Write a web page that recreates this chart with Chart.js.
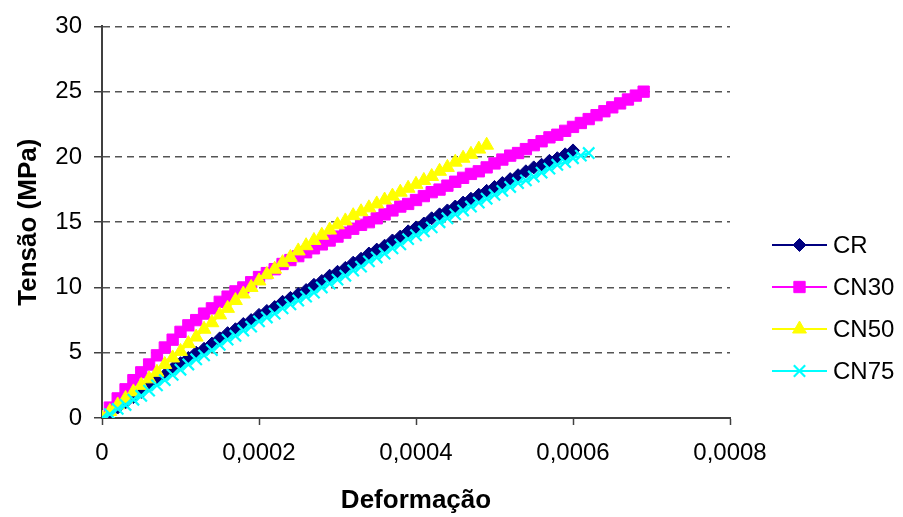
<!DOCTYPE html>
<html lang="pt">
<head>
    <meta charset="UTF-8">
    <title>Tensão x Deformação</title>
    <script src="https://cdn.jsdelivr.net/npm/chart.js"></script>
    <style>
        body {
            background-color: white;
            margin: 0;
            font-family: "Liberation Sans", Arial, sans-serif;
        }
    </style>
</head>
<body>
    <canvas id="grafico" width="903" height="517"></canvas>

    <script>
        // deformação (strain) em passos de 0,00001
        const deformacao = [];
        for (let i = 0; i <= 70; i++) deformacao.push(i / 100000);

        // tensão (MPa), um valor por deformação
        const tensaoCR = [
            0, 0.4, 0.8, 1.2, 1.6, 2.0, 2.5, 2.9, 3.3, 3.8,
            4.2, 4.6, 5.0, 5.3, 5.7, 6.1, 6.5, 6.8, 7.2, 7.5,
            7.9, 8.2, 8.5, 8.9, 9.2, 9.5, 9.8, 10.2, 10.5, 10.9,
            11.2, 11.5, 11.9, 12.2, 12.6, 12.9, 13.2, 13.6, 13.9, 14.3,
            14.6, 14.9, 15.3, 15.6, 15.9, 16.2, 16.5, 16.8, 17.1, 17.4,
            17.7, 18.0, 18.3, 18.6, 18.9, 19.2, 19.4, 19.7, 19.9, 20.2,
            20.5
        ];
        const tensaoCN30 = [
            0, 0.8, 1.5, 2.2, 2.9, 3.5, 4.1, 4.8, 5.4, 6.0,
            6.6, 7.1, 7.5, 8.0, 8.4, 8.9, 9.3, 9.7, 10.0, 10.4,
            10.8, 11.1, 11.4, 11.8, 12.1, 12.4, 12.7, 13.0, 13.3, 13.6,
            13.9, 14.2, 14.5, 14.8, 15.0, 15.3, 15.6, 15.9, 16.2, 16.4,
            16.7, 17.0, 17.3, 17.5, 17.8, 18.1, 18.4, 18.7, 18.9, 19.2,
            19.5, 19.8, 20.1, 20.3, 20.6, 20.9, 21.2, 21.5, 21.7, 22.0,
            22.3, 22.6, 22.9, 23.2, 23.5, 23.8, 24.1, 24.4, 24.7, 25.0
        ];
        const tensaoCN50 = [
            0, 0.5, 1.0, 1.5, 2.0, 2.5, 3.0, 3.5, 4.1, 4.6,
            5.1, 5.7, 6.2, 6.8, 7.3, 7.9, 8.4, 9.0, 9.5, 10.0,
            10.5, 11.0, 11.4, 11.9, 12.3, 12.8, 13.2, 13.6, 14.0, 14.4,
            14.8, 15.1, 15.5, 15.8, 16.1, 16.4, 16.7, 17.0, 17.3, 17.6,
            17.9, 18.2, 18.5, 18.9, 19.2, 19.6, 19.9, 20.2, 20.6, 20.9
        ];
        const tensaoCN75 = [
            0, 0.3, 0.7, 1.0, 1.4, 1.7, 2.1, 2.5, 2.9, 3.3,
            3.7, 4.1, 4.5, 4.8, 5.2, 5.6, 6.0, 6.3, 6.7, 7.0,
            7.4, 7.7, 8.0, 8.4, 8.7, 9.0, 9.3, 9.6, 10.0, 10.3,
            10.6, 10.9, 11.3, 11.6, 12.0, 12.3, 12.6, 13.0, 13.3, 13.7,
            14.0, 14.3, 14.6, 15.0, 15.3, 15.6, 15.9, 16.2, 16.5, 16.8,
            17.1, 17.4, 17.7, 18.0, 18.2, 18.5, 18.8, 19.1, 19.4, 19.6,
            19.9, 20.1, 20.3
        ];

        const ticksX = [0, 0.0002, 0.0004, 0.0006, 0.0008];
        const ticksY = [0, 5, 10, 15, 20, 25, 30];

        function pares(ys) {
            return ys.map((y, i) => ({ x: deformacao[i], y: y }));
        }

        function serie(label, ys, cor, estilo, raio, ordem) {
            return {
                label: label,
                data: pares(ys),
                borderColor: cor,
                backgroundColor: cor,
                borderWidth: 2,
                pointStyle: estilo,
                pointRadius: raio,
                pointBorderWidth: estilo === 'crossRot' ? 2.2 : 1,
                pointBackgroundColor: cor,
                pointBorderColor: cor,
                showLine: true,
                order: ordem
            };
        }

        const datasets = [
            serie('CR', tensaoCR, '#000080', 'rectRot', 6.5, 4),
            serie('CN30', tensaoCN30, '#FF00FF', 'rect', 8, 3),
            serie('CN50', tensaoCN50, '#FFFF00', 'triangle', 8, 2),
            serie('CN75', tensaoCN75, '#00FFFF', 'crossRot', 8, 1)
        ];

        // legenda estilo Excel: linha com marcador no meio
        const legendaExcel = {
            id: 'legendaExcel',
            afterDraw(chart) {
                const ctx = chart.ctx;
                const x0 = 772, x1 = 827, xt = 833;
                let y = 245;
                ctx.save();
                ctx.font = '24px "Liberation Sans", Arial, sans-serif';
                ctx.textBaseline = 'middle';
                ctx.textAlign = 'left';
                chart.data.datasets.forEach(ds => {
                    ctx.strokeStyle = ds.borderColor;
                    ctx.fillStyle = ds.borderColor;
                    ctx.lineWidth = 2;
                    ctx.beginPath();
                    ctx.moveTo(x0, y);
                    ctx.lineTo(x1, y);
                    ctx.stroke();
                    ctx.lineWidth = ds.pointBorderWidth;
                    Chart.helpers.drawPoint(ctx, {
                        pointStyle: ds.pointStyle,
                        radius: ds.pointRadius,
                        rotation: 0,
                        borderWidth: ds.pointBorderWidth
                    }, (x0 + x1) / 2, y);
                    ctx.fillStyle = '#000';
                    ctx.fillText(ds.label, xt, y + 1);
                    y += 42;
                });
                ctx.restore();
            }
        };

        const ctx = document.getElementById('grafico').getContext('2d');
        new Chart(ctx, {
            type: 'scatter',
            data: { datasets: datasets },
            options: {
                responsive: false,
                animation: false,
                layout: { padding: { left: 0, top: 21, right: 173, bottom: 0 } },
                scales: {
                    x: {
                        type: 'linear',
                        min: 0,
                        max: 0.0008,
                        afterBuildTicks: scale => { scale.ticks = ticksX.map(v => ({ value: v })); },
                        afterFit: scale => { scale.height = 99; },
                        ticks: {
                            color: '#000',
                            padding: 14,
                            maxRotation: 0,
                            font: { family: '"Liberation Sans", Arial, sans-serif', size: 24 },
                            callback: v => v === 0 ? '0' : Number(v).toFixed(4).replace('.', ',')
                        },
                        grid: {
                            drawOnChartArea: false,
                            drawTicks: true,
                            tickLength: 7,
                            tickColor: '#404040',
                            tickWidth: 1.5,
                            tickBorderDash: []
                        },
                        border: { color: '#404040', width: 2 },
                        title: {
                            display: true,
                            text: 'Deformação',
                            color: '#000',
                            padding: { top: 0, bottom: 1 },
                            font: { family: '"Liberation Sans", Arial, sans-serif', size: 26, weight: 'bold' }
                        }
                    },
                    y: {
                        min: 0,
                        max: 30,
                        afterBuildTicks: scale => { scale.ticks = ticksY.map(v => ({ value: v })); },
                        afterFit: scale => { scale.width = 102; },
                        ticks: {
                            color: '#000',
                            padding: 12,
                            font: { family: '"Liberation Sans", Arial, sans-serif', size: 24 }
                        },
                        grid: {
                            color: c => c.tick && c.tick.value === 0 ? 'rgba(0,0,0,0)' : '#555555',
                            lineWidth: 1.5,
                            drawTicks: true,
                            tickLength: 8,
                            tickColor: '#404040',
                            tickWidth: 1.5,
                            tickBorderDash: []
                        },
                        border: { color: '#404040', width: 2, dash: [7, 5] },
                        title: {
                            display: true,
                            text: 'Tensão (MPa)',
                            color: '#000',
                            padding: { top: 13, bottom: 0 },
                            font: { family: '"Liberation Sans", Arial, sans-serif', size: 26, weight: 'bold' }
                        }
                    }
                },
                plugins: {
                    legend: { display: false },
                    tooltip: { enabled: false }
                }
            },
            plugins: [legendaExcel]
        });
    </script>
</body>
</html>
